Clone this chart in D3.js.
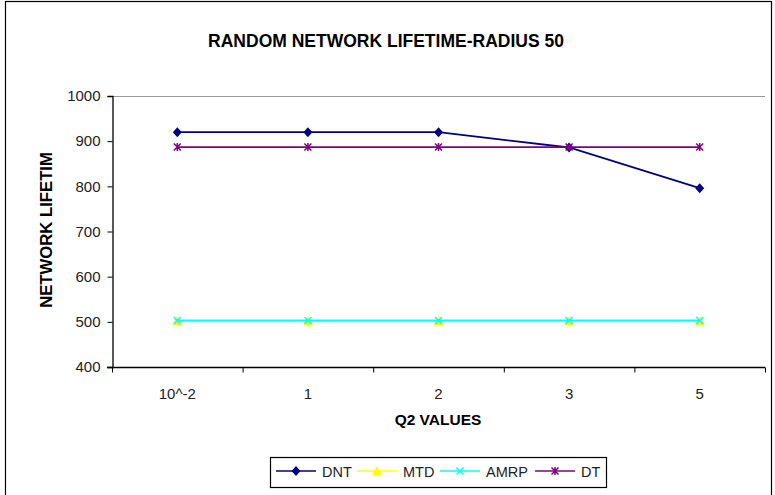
<!DOCTYPE html>
<html>
<head>
<meta charset="utf-8">
<script src="https://cdn.jsdelivr.net/npm/d3@7.9.0/dist/d3.min.js"></script>
<style>
  body { margin: 0; background: #fff; }
  svg { display: block; font-family: "Liberation Sans", Arial, sans-serif; }
</style>
</head>
<body>
<svg id="chart" width="775" height="495"></svg>
<script>
const categories = ["10^-2", "1", "2", "3", "5"];
const dnt = [920, 920, 920, 886, 796];
const mtd = [502, 502, 502, 502, 502];
const amrp = [503, 503, 503, 503, 503];
const dt = [887, 887, 887, 887, 887];
const yTicks = [400, 500, 600, 700, 800, 900, 1000];

const series = [
  { name: "DNT", values: dnt, color: "#000080", marker: "diamond" },
  { name: "MTD", values: mtd, color: "#ffff00", marker: "triangle" },
  { name: "AMRP", values: amrp, color: "#00ffff", marker: "cross" },
  { name: "DT", values: dt, color: "#800080", marker: "star" }
];

const svg = d3.select("#chart");

// outer frame
svg.append("rect")
  .attr("x", 5.5).attr("y", 1.5)
  .attr("width", 766).attr("height", 520)
  .attr("fill", "none").attr("stroke", "#000").attr("stroke-width", 1.2);

const plot = { left: 112, right: 765, top: 96, bottom: 367 };

const x = d3.scaleBand().domain(categories).range([plot.left, plot.right]);
const y = d3.scaleLinear().domain([400, 1000]).range([plot.bottom, plot.top]);

// plot area top border (grey)
svg.append("line")
  .attr("x1", plot.left).attr("x2", plot.right)
  .attr("y1", plot.top + 0.5).attr("y2", plot.top + 0.5)
  .attr("stroke", "#999");

// y axis
const yAxis = svg.append("g")
  .attr("transform", `translate(${plot.left + 0.5},0)`)
  .call(d3.axisLeft(y).tickValues(yTicks).tickFormat(d3.format("d")).tickSize(5).tickPadding(7));
yAxis.select(".domain").attr("stroke", "#000").attr("stroke-width", 1.3);
yAxis.selectAll("text").attr("font-size", 15).attr("fill", "#222");

// x axis
const xAxis = svg.append("g")
  .attr("transform", `translate(0,${plot.bottom + 0.5})`);
xAxis.append("line")
  .attr("x1", plot.left - 5).attr("x2", plot.right)
  .attr("stroke", "#000").attr("stroke-width", 1.3);
const bounds = categories.map(c => x(c)).concat([plot.right]);
xAxis.selectAll(".xt")
  .data(bounds)
  .join("line")
  .attr("class", "xt")
  .attr("x1", d => d + 0.5).attr("x2", d => d + 0.5)
  .attr("y1", 0).attr("y2", 5)
  .attr("stroke", "#000");
xAxis.selectAll(".xl")
  .data(categories)
  .join("text")
  .attr("class", "xl")
  .attr("x", d => x(d) + x.bandwidth() / 2)
  .attr("y", 31)
  .attr("text-anchor", "middle")
  .attr("font-size", 15)
  .attr("fill", "#222")
  .text(d => d);

// titles
svg.append("text")
  .attr("x", 386).attr("y", 47)
  .attr("text-anchor", "middle")
  .attr("font-size", 17.5).attr("font-weight", "bold")
  .text("RANDOM NETWORK LIFETIME-RADIUS 50");

svg.append("text")
  .attr("x", 438).attr("y", 425)
  .attr("text-anchor", "middle")
  .attr("font-size", 15.5).attr("font-weight", "bold")
  .text("Q2 VALUES");

svg.append("text")
  .attr("transform", "translate(52,230) rotate(-90)")
  .attr("text-anchor", "middle")
  .attr("font-size", 16.7).attr("font-weight", "bold")
  .text("NETWORK LIFETIM");

function drawMarker(g, type, cx, cy, color) {
  if (type === "diamond") {
    g.append("path")
      .attr("d", `M${cx},${cy - 5}L${cx + 4.5},${cy}L${cx},${cy + 5}L${cx - 4.5},${cy}Z`)
      .attr("fill", color);
  } else if (type === "triangle") {
    g.append("path")
      .attr("d", `M${cx},${cy - 5}L${cx + 5},${cy + 4}L${cx - 5},${cy + 4}Z`)
      .attr("fill", color);
  } else if (type === "cross") {
    g.append("path")
      .attr("d", `M${cx - 3.5},${cy - 3.5}L${cx + 3.5},${cy + 3.5}M${cx + 3.5},${cy - 3.5}L${cx - 3.5},${cy + 3.5}`)
      .attr("stroke", color).attr("stroke-width", 1.5);
  } else {
    g.append("path")
      .attr("d", `M${cx - 3.5},${cy - 3.5}L${cx + 3.5},${cy + 3.5}M${cx + 3.5},${cy - 3.5}L${cx - 3.5},${cy + 3.5}M${cx},${cy - 4}L${cx},${cy + 4}`)
      .attr("stroke", color).attr("stroke-width", 1.5);
  }
}

const line = d3.line()
  .x((d, i) => x(categories[i]) + x.bandwidth() / 2)
  .y(d => y(d));

series.forEach(s => {
  const g = svg.append("g");
  g.append("path")
    .attr("d", line(s.values))
    .attr("fill", "none")
    .attr("stroke", s.color)
    .attr("stroke-width", 1.8);
  s.values.forEach((v, i) => {
    drawMarker(g, s.marker, x(categories[i]) + x.bandwidth() / 2, y(v), s.color);
  });
});

// legend
const legend = svg.append("g");
legend.append("rect")
  .attr("x", 270.5).attr("y", 457.5)
  .attr("width", 336).attr("height", 30)
  .attr("fill", "#fff").attr("stroke", "#000").attr("stroke-width", 1.2);
const legendX = [276, 357, 440, 535];
series.forEach((s, i) => {
  const lx = legendX[i];
  const ly = 471;
  legend.append("line")
    .attr("x1", lx).attr("x2", lx + 40)
    .attr("y1", ly).attr("y2", ly)
    .attr("stroke", s.color).attr("stroke-width", 1.5);
  drawMarker(legend, s.marker, lx + 20, ly, s.color);
  legend.append("text")
    .attr("x", lx + 46).attr("y", ly + 5.5)
    .attr("font-size", 14.5)
    .attr("fill", "#222")
    .text(s.name);
});
</script>
</body>
</html>
